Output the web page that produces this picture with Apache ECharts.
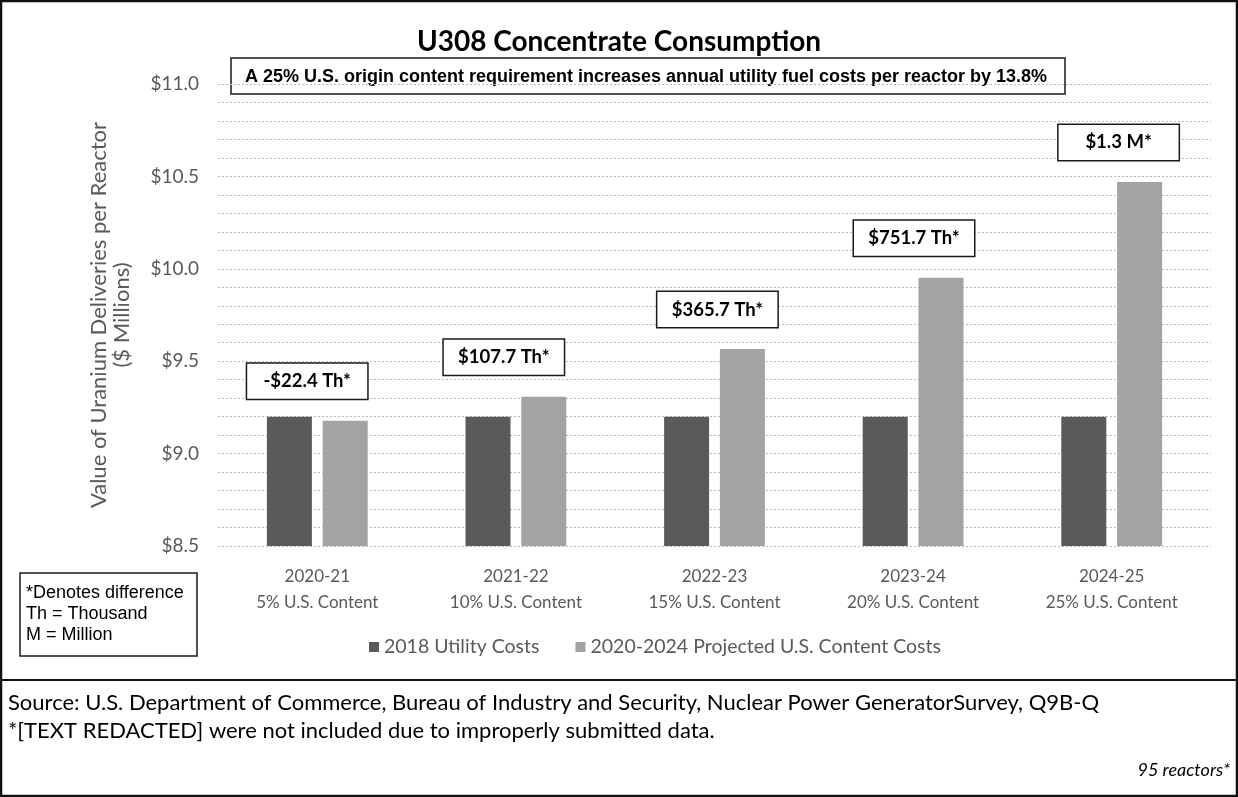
<!DOCTYPE html>
<html>
<head>
<meta charset="utf-8">
<title>U308 Concentrate Consumption</title>
<script src="https://cdn.jsdelivr.net/npm/echarts@6/dist/echarts.min.js"></script>
<style>
  html, body { margin: 0; padding: 0; background: #fff; }
  #chart { width: 1238px; height: 797px; }
</style>
</head>
<body>
<div id="chart"></div>
<script>
// Marketing years and the U.S.-origin share required in each
const years = ['2020-21', '2021-22', '2022-23', '2023-24', '2024-25'];
const contentShares = ['5% U.S. Content', '10% U.S. Content', '15% U.S. Content', '20% U.S. Content', '25% U.S. Content'];

// Value of uranium deliveries per reactor, $ millions
const utilityCosts2018 = [9.2, 9.2, 9.2, 9.2, 9.2];
// Change versus 2018 costs, $ thousands
const differenceThousands = [-22.4, 107.7, 365.7, 751.7, 1270];

const yTicks = { min: 8.5, max: 11.0, step: 0.5 };

const seriesNames = ['2018 Utility Costs', '2020-2024 Projected U.S. Content Costs'];

const titleText = 'U308 Concentrate Consumption';
const headlineText = 'A 25% U.S. origin content requirement increases annual utility fuel costs per reactor by 13.8%';
const noteLines = ['*Denotes difference', 'Th = Thousand', 'M = Million'];
const sourceLines = [
  'Source: U.S. Department of Commerce, Bureau of Industry and Security, Nuclear Power GeneratorSurvey, Q9B-Q',
  '*[TEXT REDACTED] were not included due to improperly submitted data.'
];
const reactorNote = '95 reactors*';

// Projected costs = 2018 costs plus the stated difference
const projectedCosts = utilityCosts2018.map((v, i) => +(v + differenceThousands[i] / 1000).toFixed(4));

function diffLabel(thousands) {
  const sign = thousands < 0 ? '-' : '';
  const a = Math.abs(thousands);
  if (a >= 1000) return sign + '$' + (a / 1000).toFixed(1) + ' M*';
  return sign + '$' + a.toFixed(1) + ' Th*';
}

const CAL = 'Lato, "Noto Sans", sans-serif';
const ARIAL = '"Liberation Sans", Arial, sans-serif';
const GREY_TEXT = '#595959';
const gridStyle = { color: '#b8b8b8', width: 1, type: [2, 2] };

// horizontal nudge of each callout box, relative to the projected-cost bar
const calloutShift = [-38, -40, -25, -27, -21];

const calloutStyle = {
  show: true,
  position: 'top',
  distance: 22,
  fontFamily: CAL,
  fontWeight: 'bold',
  fontSize: 18.5,
  color: '#000',
  backgroundColor: '#fff',
  borderColor: '#1a1a1a',
  borderWidth: 1.5,
  padding: [8, 12],
  width: 96,
  align: 'center'
};

const projectedItems = projectedCosts.map((v, i) => ({
  value: v,
  label: Object.assign({}, calloutStyle, {
    offset: [calloutShift[i], 0],
    formatter: () => diffLabel(differenceThousands[i])
  })
}));

const chart = echarts.init(document.getElementById('chart'), null, { renderer: 'canvas' });

chart.setOption({
  backgroundColor: '#ffffff',
  animation: false,
  title: {
    text: titleText,
    left: 'center',
    top: 23,
    textStyle: { fontFamily: CAL, fontWeight: 'bold', fontSize: 28, color: '#000' }
  },
  legend: {
    data: seriesNames,
    left: 364,
    top: 632,
    icon: 'rect',
    itemWidth: 10,
    itemHeight: 10,
    itemGap: 36,
    textStyle: { fontFamily: CAL, fontSize: 19.5, color: GREY_TEXT }
  },
  grid: { left: 218, right: 27, top: 84, bottom: 251, containLabel: false },
  xAxis: {
    type: 'category',
    data: years,
    axisLine: { show: false },
    axisTick: { show: false },
    axisLabel: {
      margin: 18,
      fontFamily: CAL,
      fontSize: 17,
      lineHeight: 26,
      color: GREY_TEXT,
      formatter: (v, i) => v + '\n' + contentShares[i]
    }
  },
  yAxis: {
    type: 'value',
    min: yTicks.min,
    max: yTicks.max,
    interval: yTicks.step,
    name: 'Value of Uranium Deliveries per Reactor\n($ Millions)',
    nameLocation: 'middle',
    nameRotate: 90,
    nameGap: 85,
    nameTextStyle: { fontFamily: CAL, fontSize: 22, lineHeight: 23, color: GREY_TEXT },
    axisLine: { show: false },
    axisTick: { show: false },
    axisLabel: {
      margin: 19,
      fontFamily: CAL,
      fontSize: 19,
      color: GREY_TEXT,
      formatter: v => '$' + v.toFixed(1)
    },
    splitLine: { show: true, lineStyle: gridStyle },
    minorTick: { show: false, splitNumber: 5 },
    minorSplitLine: { show: true, lineStyle: gridStyle }
  },
  series: [
    {
      name: seriesNames[0],
      type: 'bar',
      data: utilityCosts2018,
      barWidth: 45,
      barGap: '24%',
      itemStyle: { color: '#5a5a5a' },
      z: 3
    },
    {
      name: seriesNames[1],
      type: 'bar',
      data: projectedItems,
      barWidth: 45,
      itemStyle: { color: '#a3a3a3' },
      z: 3
    }
  ],
  graphic: [
    // headline callout under the title
    {
      type: 'group',
      z: 100,
      children: [
        {
          type: 'rect',
          shape: { x: 231, y: 58, width: 834, height: 36 },
          style: { fill: '#fff', stroke: '#1a1a1a', lineWidth: 1.5 }
        },
        {
          type: 'text',
          x: 646, y: 77,
          style: {
            text: headlineText,
            font: 'bold 18px ' + ARIAL,
            fill: '#000',
            align: 'center',
            verticalAlign: 'middle'
          }
        }
      ]
    },
    // abbreviation key
    {
      type: 'group',
      z: 100,
      children: [
        {
          type: 'rect',
          shape: { x: 20, y: 573, width: 177, height: 83 },
          style: { fill: '#fff', stroke: '#1a1a1a', lineWidth: 1.5 }
        }
      ].concat(noteLines.map((t, i) => ({
        type: 'text',
        x: 26, y: 593 + i * 21,
        style: { text: t, font: '18px ' + ARIAL, fill: '#000', verticalAlign: 'middle' }
      })))
    },
    // source panel
    {
      type: 'line',
      z: 100,
      shape: { x1: 0, y1: 680, x2: 1238, y2: 680 },
      style: { stroke: '#111', lineWidth: 2 }
    }
  ].concat(sourceLines.map((t, i) => ({
    type: 'text',
    z: 100,
    x: 8, y: 703 + i * 28,
    style: { text: t, font: '22px ' + CAL, fill: '#000', verticalAlign: 'middle' }
  }))).concat([
    {
      type: 'text',
      z: 100,
      x: 1230, y: 770,
      style: { text: reactorNote, font: 'italic 18px ' + CAL, fill: '#000', align: 'right', verticalAlign: 'middle' }
    },
    // outer frame
    {
      type: 'rect',
      z: 101,
      shape: { x: 1, y: 1, width: 1236, height: 795 },
      style: { fill: 'none', stroke: '#111', lineWidth: 2.5 }
    }
  ])
});
</script>
</body>
</html>
